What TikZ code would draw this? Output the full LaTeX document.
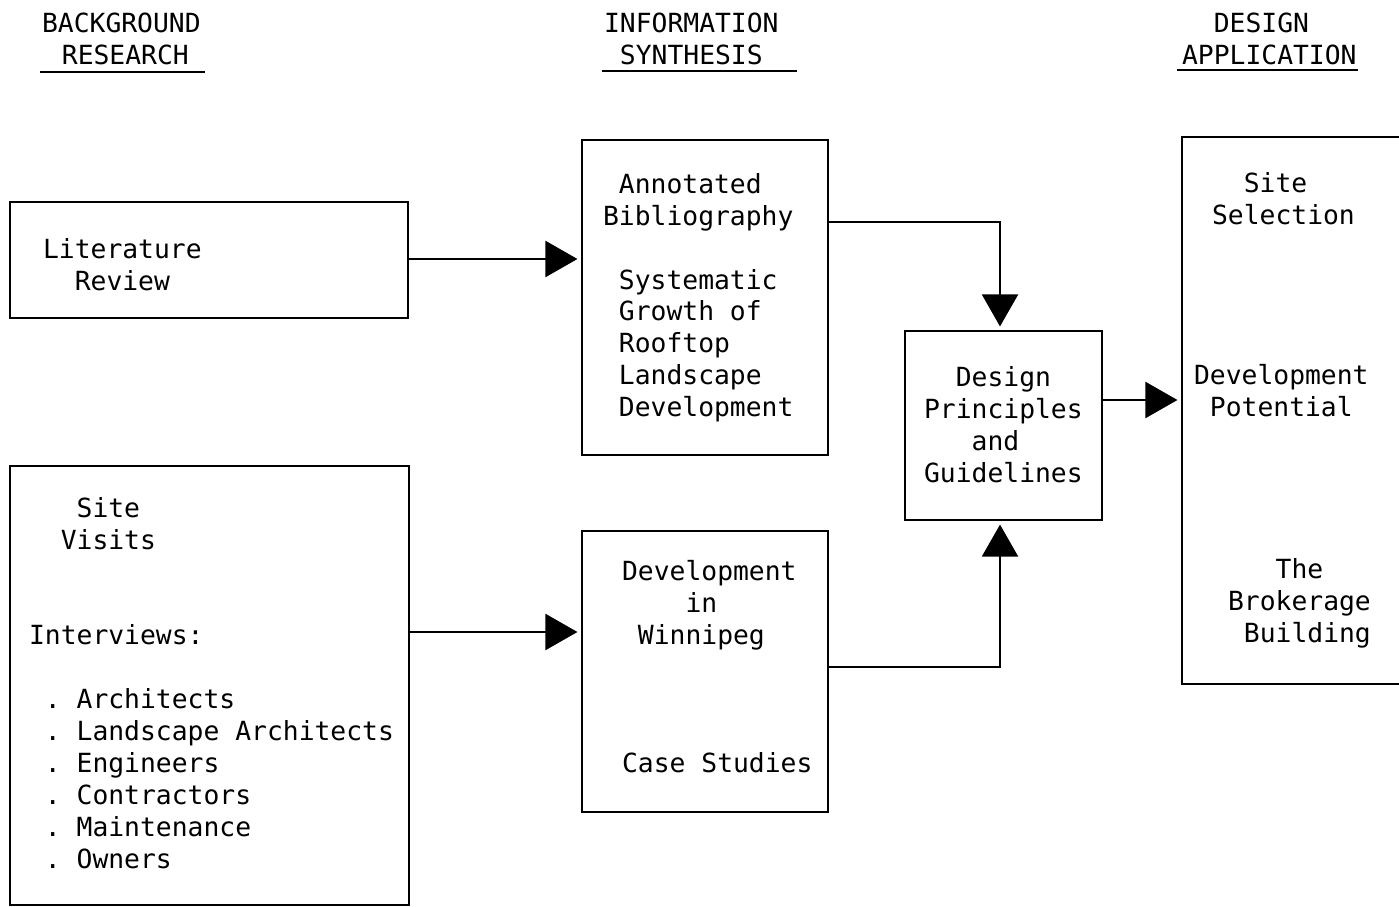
\documentclass[tikz,border=0pt]{standalone}
\usepackage{fontspec}
\setmonofont{DejaVu Sans Mono}
\usetikzlibrary{arrows.meta,fit}
\newlength{\chw}\setlength{\chw}{9.03pt}
\newcommand{\ind}[1]{\hspace*{#1\chw}}

\begin{document}
\begin{tikzpicture}
  [x=0.02cm,y=-0.02cm,line width=1.2pt,
   every node/.style={font=\ttfamily\frenchspacing\fontsize{15}{18.2}\selectfont,inner sep=0pt},
   box/.style={draw,fit={#1}},
   txt/.style={align=left,anchor=north west},
   arr/.style={-{Triangle[length=0.64cm,width=0.72cm]},shorten >=2pt}]

  \clip (0,0) rectangle (1399,906);

  % column headings
  \node[txt] (bgH) at (41,12) {BACKGROUND\\\ind{1.25}RESEARCH};
  \node[txt] (isH) at (603,12) {INFORMATION\\\ind{1}SYNTHESIS};
  \node[txt] (daH) at (1181,12) {\ind{2}DESIGN\\APPLICATION};
  \draw[line width=1pt] (40,72) -- (205,72);
  \draw[line width=1pt] (602,71) -- (797,71);
  \draw[line width=1pt] (1177,70) -- (1358,70);

  % boxes
  \node[box={(10,202) (408,318)}] (lit) {};
  \node[box={(10,466) (409,905)}] (visits) {};
  \node[box={(582,140) (828,455)}] (ann) {};
  \node[box={(582,531) (828,812)}] (win) {};
  \node[box={(905,331) (1102,520)}] (dp) {};
  \node[box={(1182,137) (1430,684)}] (app) {};

  % box texts
  \node[txt] (litT) at (42,237) {Literature\\\ind{2}Review};
  \node[txt] (visitsT) at (28,496) {\ind{3}Site\\\ind{2}Visits\\\mbox{}\\\mbox{}\\Interviews:\\\mbox{}\\
    \ind{1}. Architects\\\ind{1}. Landscape Architects\\\ind{1}. Engineers\\
    \ind{1}. Contractors\\\ind{1}. Maintenance\\\ind{1}. Owners};
  \node[txt] (annT) at (602,172) {\ind{1}Annotated\\Bibliography\\\mbox{}\\\ind{1}Systematic\\
    \ind{1}Growth of\\\ind{1}Rooftop\\\ind{1}Landscape\\\ind{1}Development};
  \node[txt] (winT) at (621,559) {Development\\\ind{4}in\\\ind{1}Winnipeg\\\mbox{}\\\mbox{}\\\mbox{}\\Case Studies};
  \node[txt] (dpT) at (923,365) {\ind{2}Design\\Principles\\\ind{3}and\\Guidelines};
  \node[txt] (selT) at (1211,171) {\ind{2}Site\\Selection};
  \node[txt] (potT) at (1193,363) {Development\\\ind{1}Potential};
  \node[txt] (brkT) at (1227,557) {\ind{3}The\\Brokerage\\\ind{1}Building};

  % connectors
  \foreach \from/\to/\y in {lit/ann/259,visits/win/632,dp/app/400}
    \draw[arr] (\from.east |- 0,\y) -- (\to.west |- 0,\y);
  \draw[arr] (ann.east |- 0,222) -| (1000,0 |- dp.north);
  \draw[arr] (win.east |- 0,667) -| (1000,0 |- dp.south);
\end{tikzpicture}
\end{document}
